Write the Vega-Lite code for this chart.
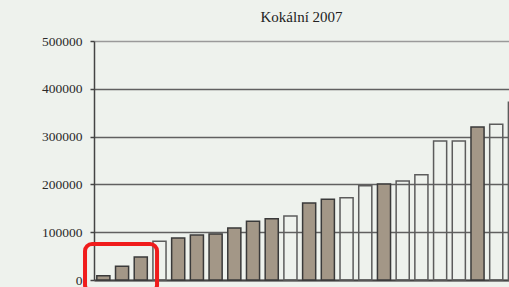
{
  "$schema": "https://vega.github.io/schema/vega-lite/v6.json",
  "autosize": {"type": "none"},
  "width": 415,
  "height": 239,
  "padding": {"left": 94, "top": 41, "right": 0, "bottom": 7},
  "background": "#eef2ed",
  "config": {"view": {"stroke": null}},
  "title": {
    "text": "Kokální 2007",
    "font": "Liberation Serif",
    "fontSize": 15,
    "fontWeight": "normal",
    "color": "#222",
    "baseline": "bottom",
    "offset": -6
  },
  "datasets": {
    "bars": [
      {"i": 1, "value": 9000, "kind": "filled"},
      {"i": 2, "value": 29000, "kind": "filled"},
      {"i": 3, "value": 48000, "kind": "filled"},
      {"i": 4, "value": 81000, "kind": "hollow"},
      {"i": 5, "value": 88000, "kind": "filled"},
      {"i": 6, "value": 94000, "kind": "filled"},
      {"i": 7, "value": 96000, "kind": "filled"},
      {"i": 8, "value": 109000, "kind": "filled"},
      {"i": 9, "value": 123000, "kind": "filled"},
      {"i": 10, "value": 128000, "kind": "filled"},
      {"i": 11, "value": 134000, "kind": "hollow"},
      {"i": 12, "value": 161000, "kind": "filled"},
      {"i": 13, "value": 169000, "kind": "filled"},
      {"i": 14, "value": 172000, "kind": "hollow"},
      {"i": 15, "value": 197000, "kind": "hollow"},
      {"i": 16, "value": 201000, "kind": "filled"},
      {"i": 17, "value": 207000, "kind": "hollow"},
      {"i": 18, "value": 220000, "kind": "hollow"},
      {"i": 19, "value": 291000, "kind": "hollow"},
      {"i": 20, "value": 291000, "kind": "hollow"},
      {"i": 21, "value": 320000, "kind": "filled"},
      {"i": 22, "value": 326000, "kind": "hollow"},
      {"i": 23, "value": 372000, "kind": "hollow"}
    ],
    "box": [
      {"x0": -0.48, "x1": 3.37, "y0": -25000, "y1": 75300}
    ]
  },
  "layer": [
    {
      "data": {"name": "bars"},
      "mark": {"type": "bar", "strokeWidth": 1.5},
      "encoding": {
        "x": {
          "field": "i",
          "type": "ordinal",
          "scale": {"range": [0, 430.3], "paddingInner": 0.3, "paddingOuter": 0.15},
          "axis": {"labels": false, "ticks": false, "title": null, "domainColor": "#444", "domainWidth": 2}
        },
        "y": {
          "field": "value",
          "type": "quantitative",
          "scale": {"domain": [0, 500000]},
          "axis": {
            "values": [0, 100000, 200000, 300000, 400000, 500000],
            "format": "d",
            "title": null,
            "labelFont": "Liberation Serif",
            "labelFontSize": 13.5,
            "labelColor": "#2a2a2a",
            "labelPadding": 8,
            "tickSize": 4,
            "tickColor": "#444",
            "tickWidth": 1.5,
            "domainColor": "#444",
            "domainWidth": 1.5,
            "gridColor": {"condition": {"test": "datum.value == 500000", "value": "#9a9a9a"}, "value": "#606060"},
            "gridWidth": 1.5
          }
        },
        "fill": {
          "field": "kind",
          "type": "nominal",
          "scale": {"domain": ["filled", "hollow"], "range": ["#a39787", "transparent"]},
          "legend": null
        },
        "stroke": {
          "field": "kind",
          "type": "nominal",
          "scale": {"domain": ["filled", "hollow"], "range": ["#3a3a3a", "#5c5c5c"]},
          "legend": null
        }
      }
    },
    {
      "data": {"name": "box"},
      "mark": {"type": "rect", "fill": null, "stroke": "#f01c1c", "strokeWidth": 4, "cornerRadius": 7},
      "encoding": {
        "x": {"field": "x0", "type": "quantitative", "scale": {"domain": [0, 23], "range": [0, 430.3]}, "axis": null},
        "x2": {"field": "x1"},
        "y": {"field": "y0", "type": "quantitative"},
        "y2": {"field": "y1"}
      }
    }
  ],
  "resolve": {"scale": {"x": "independent", "fill": "independent", "stroke": "independent"}}
}
